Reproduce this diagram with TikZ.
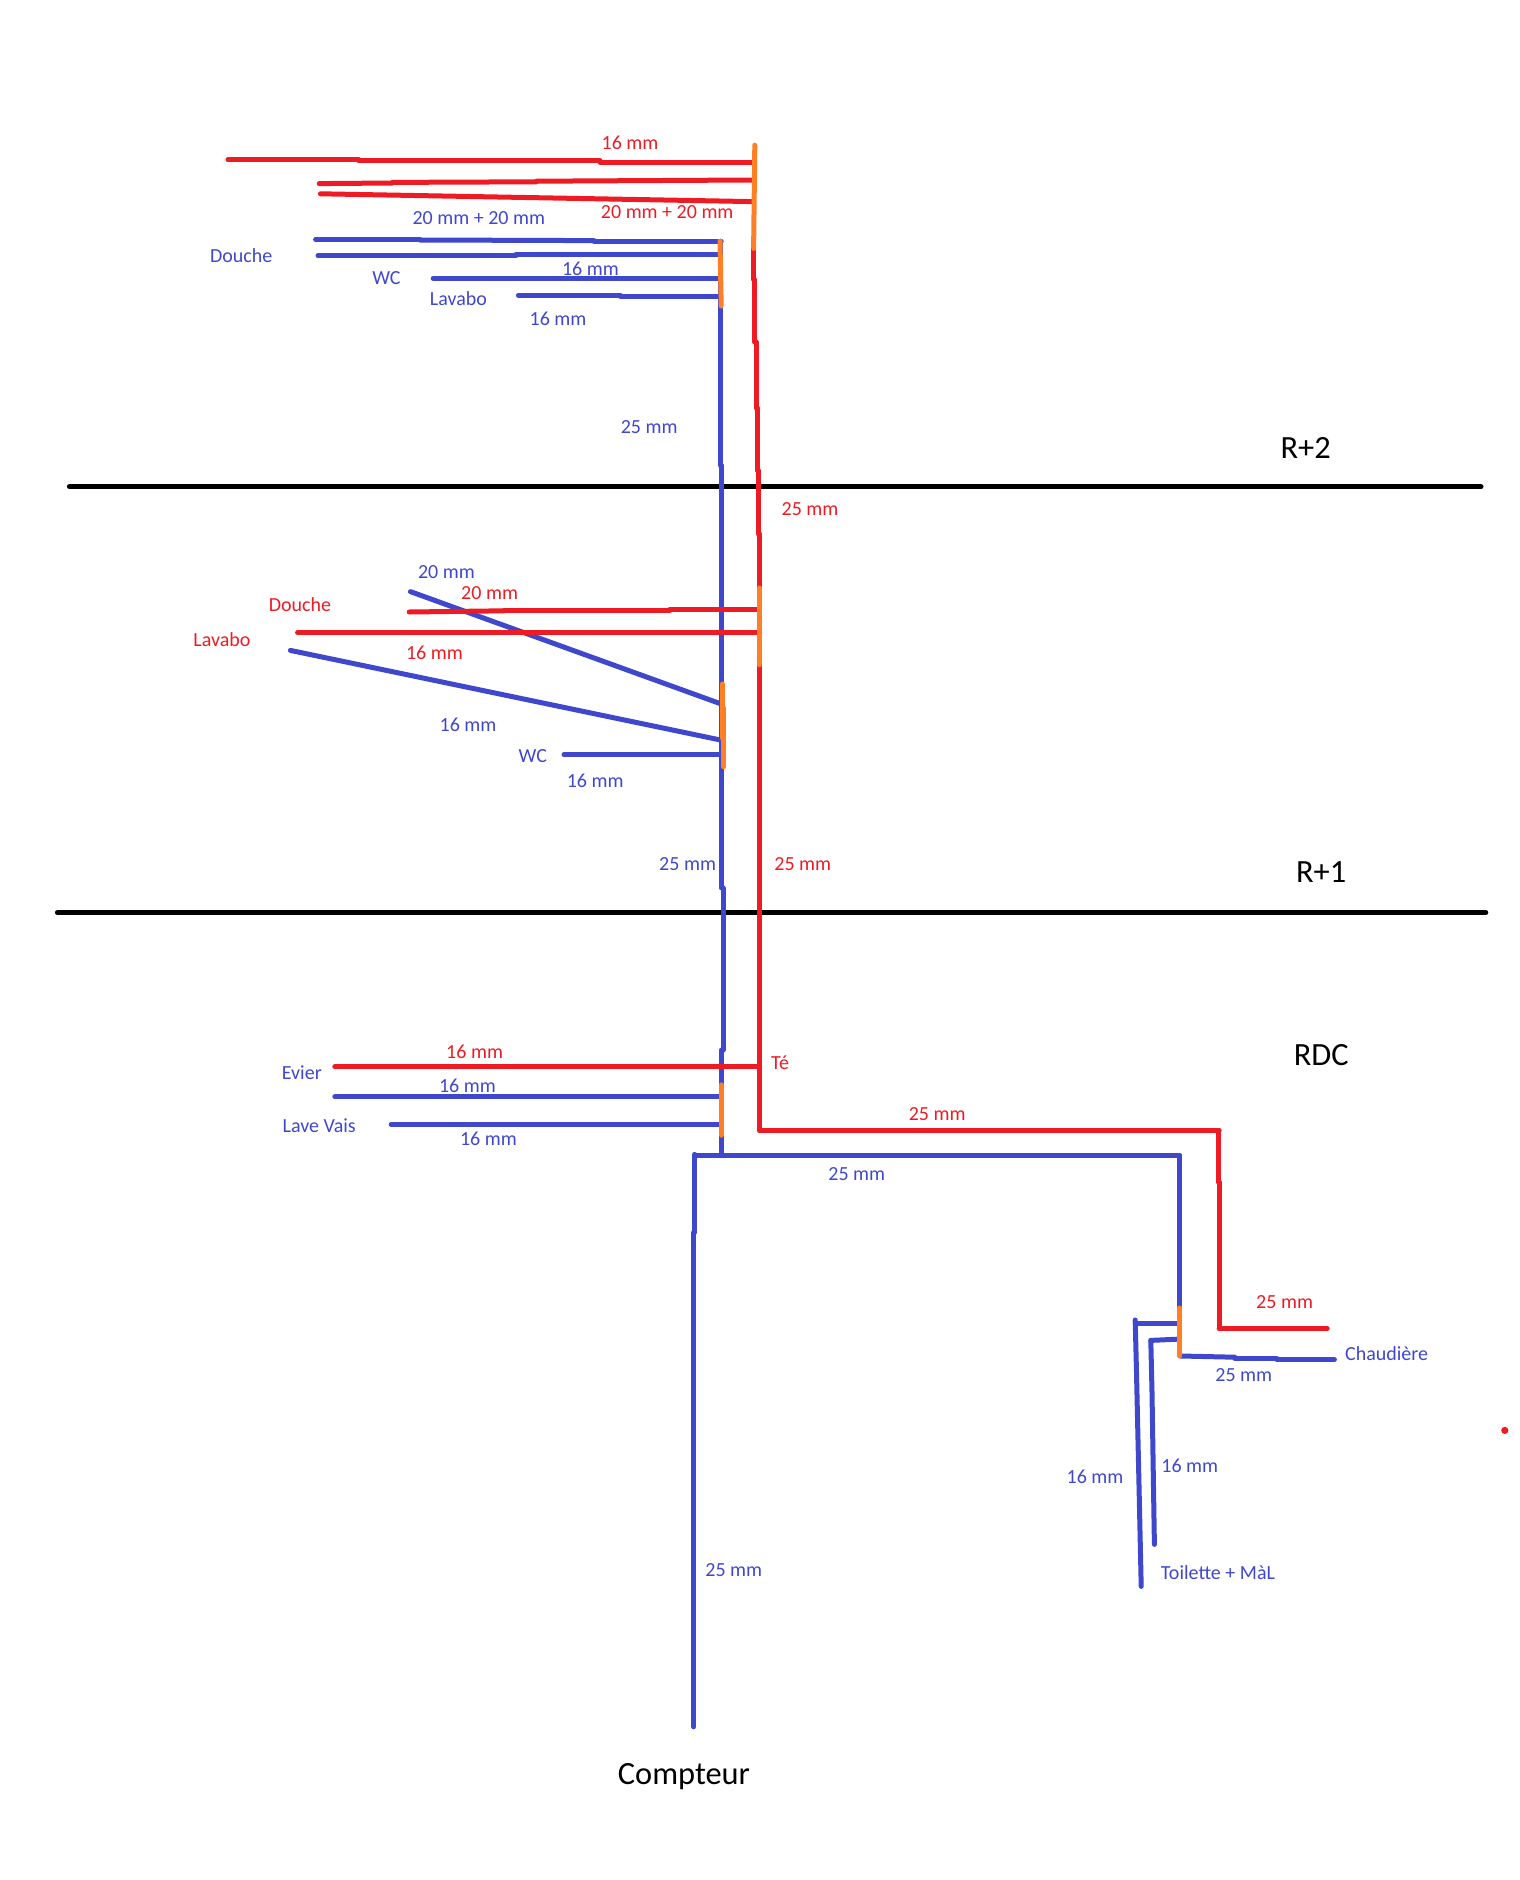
\documentclass[tikz,border=0pt]{standalone}
\usepackage{fontspec}
\setmainfont{Carlito}
\definecolor{pred}{HTML}{ED1C24}
\definecolor{pblue}{HTML}{3F48CC}
\definecolor{porange}{HTML}{FF7F27}
\tikzset{
  hot/.style={draw=pred,line width=2.5pt,line cap=round},
  cold/.style={draw=pblue,line width=2.5pt,line cap=round},
  tee/.style={draw=porange,line width=2.5pt,line cap=round},
  floorline/.style={draw=black,line width=2.7pt,line cap=round},
  lab/.style={inner sep=0pt,font=\fontsize{10}{12}\selectfont,text height=0.7em,text depth=0.05em},
  hotlab/.style={lab,text=pred},
  coldlab/.style={lab,text=pblue},
  biglab/.style={inner sep=0pt,yshift=-2.4pt,font=\fontsize{16.2}{19}\selectfont,text=black,text height=0.7em,text depth=0.2em}
}
\begin{document}
\begin{tikzpicture}[x=0.6pt,y=-0.6pt]
\useasboundingbox (0,0) rectangle (1266.67,1566.67);
% floors
\draw[floorline] (58,405.5) -- (1234,405.5);
\draw[floorline] (48,760.5) -- (1238,760.5);
% cold riser
\draw[cold] (600.5,201) -- (600.5,388);
\draw[cold] (601.5,388) -- (601.5,740);
\draw[cold] (602.5,740) -- (602.5,875);
\draw[cold] (601.5,875) -- (601.5,963);
% cold branches R+2
\draw[cold] (263,199.5) -- (350,199.5);
\draw[cold] (350,200) -- (495,200.5);
\draw[cold] (495,201) -- (601,201);
\draw[cold] (265,213) -- (430,213);
\draw[cold] (430,212) -- (600,212);
\draw[cold] (361,232) -- (600,232);
\draw[cold] (432,246) -- (517,246);
\draw[cold] (517,247) -- (600,247);
% cold branches R+1
\draw[cold] (342,493) -- (602,587);
\draw[cold] (242,542) -- (602,617);
\draw[cold] (470,629) -- (602,629);
% cold branches RDC
\draw[cold] (279,914) -- (600,914);
\draw[cold] (326,937) -- (601,937);
% main cold
\draw[cold] (579,963) -- (983,963);
\draw[cold] (579,962) -- (579,1027);
\draw[cold] (578,1027) -- (578,1439);
\draw[cold] (983,963) -- (983,1090);
\draw[cold] (984,1130) -- (1029,1131);
\draw[cold] (1029,1132) -- (1064,1132);
\draw[cold] (1064,1133) -- (1112,1133);
\draw[cold] (946,1103) -- (982,1103);
\draw[cold] (946,1100) -- (947,1140) -- (949,1230) -- (951,1322);
\draw[cold] (959,1117) -- (981,1116);
\draw[cold] (959,1117) -- (960,1160) -- (962,1287);
% hot
\draw[hot] (190,133) -- (299,133);
\draw[hot] (299,134) -- (500,134);
\draw[hot] (500,135) -- (627,135);
\draw[hot] (266,153) -- (327,152.5);
\draw[hot] (327,152) -- (447,151.5);
\draw[hot] (447,151) -- (627,150);
\draw[hot] (267,161.5) -- (627,168);
\draw[hot] (628,207) -- (628,233);
\draw[hot] (629,233) -- (629,285);
\draw[hot] (630,285) -- (630,340);
\draw[hot] (631,340) -- (631,392);
\draw[hot] (632,392) -- (632,445);
\draw[hot] (633,445) -- (633,942);
\draw[hot] (341,510) -- (420,509);
\draw[hot] (420,509) -- (558,509);
\draw[hot] (558,508) -- (632,508);
\draw[hot] (248,527) -- (633,527);
\draw[hot] (279,889) -- (633,889);
\draw[hot] (633,942) -- (1016,942);
\draw[hot] (1015,942) -- (1015,985);
\draw[hot] (1016,985) -- (1016,1107);
\draw[hot] (1016,1107) -- (1106,1107);
\fill[pred] (1254,1192) circle (1.8pt);
% tees
\draw[tee] (629,121) -- (628,207);
\draw[tee] (600,201) -- (601,255);
\draw[tee] (633,490) -- (633,524);
\draw[tee] (632.5,524) -- (632.5,554);
\draw[tee] (602,570) -- (602,615);
\draw[tee] (603,590) -- (603,639);
\draw[tee] (601,904) -- (601,946);
\draw[tee] (983,1090) -- (983,1130);
% labels
\node[hotlab] (h1) at (525,119) {16 mm};
\node[hotlab] (h2) at (556,177) {20 mm + 20 mm};
\node[coldlab] (c1) at (399,182) {20 mm + 20 mm};
\node[coldlab] (c2) at (201,213) {Douche};
\node[coldlab] (c3) at (322,232) {WC};
\node[coldlab] (c4) at (492,224) {16 mm};
\node[coldlab] (c5) at (382,249) {Lavabo};
\node[coldlab] (c6) at (465,266) {16 mm};
\node[coldlab] (c7) at (541,356) {25 mm};
\node[biglab] (r2) at (1088,374) {R+2};
\node[hotlab] (h3) at (675,424) {25 mm};
\node[coldlab] (c8) at (372,477) {20 mm};
\node[hotlab] (h4) at (408,494) {20 mm};
\node[hotlab] (h5) at (250,504) {Douche};
\node[hotlab] (h6) at (185,533) {Lavabo};
\node[hotlab] (h7) at (362,544) {16 mm};
\node[coldlab] (c9) at (390,604) {16 mm};
\node[coldlab] (c10) at (444,630) {WC};
\node[coldlab] (c11) at (496,651) {16 mm};
\node[coldlab] (c12) at (573,720) {25 mm};
\node[hotlab] (h8) at (669,720) {25 mm};
\node[biglab] (r1) at (1101,727) {R+1};
\node[biglab] (rdc) at (1101,880) {RDC};
\node[hotlab] (h9) at (395.5,877) {16 mm};
\node[hotlab] (h10) at (650,886) {Té};
\node[coldlab] (c13) at (251.5,894) {Evier};
\node[coldlab] (c14) at (389.5,905) {16 mm};
\node[coldlab] (c15) at (266,938) {Lave Vais};
\node[coldlab] (c16) at (407,949) {16 mm};
\node[hotlab] (h11) at (781,928) {25 mm};
\node[coldlab] (c17) at (714,978) {25 mm};
\node[hotlab] (h12) at (1070.5,1085) {25 mm};
\node[coldlab] (c18) at (1155.5,1128) {Chaudière};
\node[coldlab] (c19) at (1036.5,1146) {25 mm};
\node[coldlab] (c20) at (991.5,1222) {16 mm};
\node[coldlab] (c21) at (912.5,1231) {16 mm};
\node[coldlab] (c22) at (1015,1311) {Toilette + MàL};
\node[coldlab] (c23) at (611.5,1308) {25 mm};
\node[biglab] (cpt) at (570,1479) {Compteur};
\end{tikzpicture}
\end{document}
